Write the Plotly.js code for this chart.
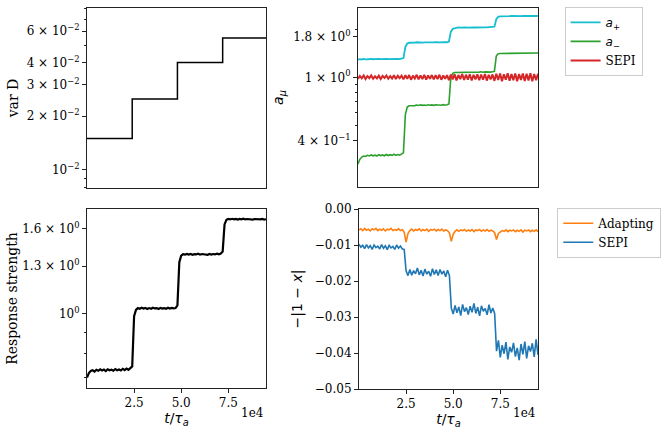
<!DOCTYPE html>
<html>
<head>
<meta charset="utf-8">
<script src="https://cdn.plot.ly/plotly-3.0.1.min.js"></script>
<style>
  html, body { margin: 0; padding: 0; background: #fff; }
  #fig { width: 665px; height: 432px; }
</style>
</head>
<body>
<div id="fig"></div>
<script>
// time grid, in units of 1000 tau_a
var t_k = [0,1,2,3,4,5,6,7,8,9,10,11,12,13,14,15,16,17,18,19,20,21,22,23,
  24,25,26,27,28,29,30,31,32,33,34,35,36,37,38,39,40,41,42,43,44,45,46,47,
  48,49,50,51,52,53,54,55,56,57,58,59,60,61,62,63,64,65,66,67,68,69,70,71,
  72,73,74,75,76,77,78,79,80,81,82,83,84,85,86,87,88,89,90,91,92,93,94,95];

// var D steps
var varD_t = [0, 24, 48, 72, 95];
var varD = [0.015, 0.025, 0.040, 0.055, 0.055];

// a_+ , a_- and SEPI (top right)
var a_plus = [1.290,1.300,1.295,1.305,1.298,1.302,1.296,1.304,1.299,1.303,1.297,1.305,1.300,1.304,1.298,1.306,1.301,1.304,1.299,1.306,1.300,1.305,1.301,1.306,
  1.320,1.550,1.630,1.650,1.648,1.660,1.652,1.661,1.655,1.662,1.654,1.660,1.656,1.663,1.655,1.661,1.657,1.663,1.656,1.662,1.658,1.664,1.657,1.662,
  1.680,1.930,2.020,2.040,2.048,2.058,2.052,2.060,2.054,2.062,2.055,2.061,2.056,2.063,2.057,2.062,2.058,2.064,2.057,2.062,2.059,2.065,2.058,2.064,
  2.080,2.320,2.400,2.415,2.422,2.432,2.426,2.434,2.427,2.433,2.428,2.435,2.429,2.434,2.427,2.433,2.429,2.436,2.430,2.434,2.428,2.435,2.430,2.434];
var a_minus = [0.285,0.305,0.315,0.320,0.318,0.323,0.320,0.325,0.321,0.324,0.320,0.326,0.322,0.325,0.321,0.327,0.322,0.326,0.323,0.328,0.323,0.327,0.324,0.330,
  0.335,0.580,0.650,0.662,0.662,0.669,0.664,0.670,0.665,0.671,0.666,0.670,0.665,0.672,0.667,0.671,0.666,0.672,0.668,0.671,0.667,0.673,0.668,0.672,
  0.680,1.000,1.060,1.072,1.072,1.080,1.074,1.081,1.075,1.082,1.076,1.081,1.077,1.083,1.076,1.082,1.078,1.084,1.077,1.082,1.079,1.085,1.078,1.084,
  1.090,1.360,1.405,1.412,1.412,1.420,1.414,1.421,1.415,1.422,1.416,1.421,1.417,1.423,1.416,1.422,1.418,1.424,1.417,1.423,1.419,1.424,1.418,1.423];
var a_sepi = [0.978,1.021,0.985,1.026,0.975,1.018,0.988,1.028,0.980,1.015,0.984,1.024,0.976,1.020,0.990,1.027,0.979,1.017,0.983,1.029,0.977,1.022,0.987,1.025,
  0.970,1.030,0.978,1.034,0.966,1.024,0.982,1.037,0.972,1.028,0.976,1.035,0.968,1.026,0.980,1.033,0.971,1.031,0.975,1.038,0.965,1.027,0.979,1.032,
  0.960,1.040,0.970,1.046,0.956,1.034,0.973,1.049,0.962,1.038,0.967,1.045,0.955,1.036,0.971,1.043,0.959,1.041,0.965,1.050,0.954,1.037,0.969,1.042,
  0.950,1.052,0.962,1.058,0.946,1.045,0.965,1.060,0.952,1.049,0.958,1.057,0.945,1.047,0.963,1.055,0.949,1.053,0.956,1.061,0.944,1.048,0.960,1.054];

// response strength (bottom left)
var resp = [0.700,0.718,0.726,0.729,0.724,0.731,0.727,0.733,0.728,0.732,0.726,0.733,0.729,0.731,0.727,0.734,0.729,0.732,0.728,0.735,0.730,0.736,0.731,0.738,
  0.745,0.985,1.020,1.030,1.026,1.032,1.027,1.031,1.025,1.030,1.026,1.032,1.028,1.030,1.025,1.031,1.027,1.030,1.026,1.032,1.027,1.031,1.028,1.030,
  1.045,1.330,1.378,1.390,1.386,1.392,1.387,1.391,1.385,1.390,1.388,1.393,1.386,1.391,1.388,1.390,1.385,1.392,1.387,1.391,1.389,1.393,1.388,1.395,
  1.410,1.640,1.682,1.690,1.686,1.692,1.687,1.691,1.685,1.690,1.687,1.693,1.686,1.690,1.688,1.692,1.685,1.690,1.687,1.691,1.686,1.690,1.684,1.688];

// -|1-x| (bottom right)
var err_adapt = [-0.0058,-0.0055,-0.0060,-0.0054,-0.0059,-0.0056,-0.0061,-0.0055,-0.0058,-0.0054,-0.0060,-0.0056,-0.0059,-0.0055,-0.0061,-0.0056,-0.0058,-0.0054,-0.0060,-0.0057,-0.0059,-0.0055,-0.0060,-0.0057,
  -0.0065,-0.0092,-0.0068,-0.0060,-0.0056,-0.0061,-0.0057,-0.0059,-0.0055,-0.0061,-0.0057,-0.0060,-0.0056,-0.0062,-0.0057,-0.0059,-0.0056,-0.0061,-0.0057,-0.0060,-0.0056,-0.0061,-0.0058,-0.0060,
  -0.0066,-0.0090,-0.0070,-0.0062,-0.0058,-0.0062,-0.0058,-0.0060,-0.0057,-0.0062,-0.0058,-0.0061,-0.0057,-0.0063,-0.0058,-0.0060,-0.0057,-0.0062,-0.0058,-0.0061,-0.0057,-0.0062,-0.0059,-0.0061,
  -0.0066,-0.0085,-0.0068,-0.0063,-0.0060,-0.0062,-0.0058,-0.0063,-0.0059,-0.0061,-0.0058,-0.0063,-0.0059,-0.0062,-0.0058,-0.0064,-0.0059,-0.0061,-0.0058,-0.0063,-0.0059,-0.0062,-0.0058,-0.0063];
var err_sepi = [-0.0098,-0.0106,-0.0101,-0.0110,-0.0099,-0.0108,-0.0102,-0.0112,-0.0100,-0.0107,-0.0103,-0.0111,-0.0099,-0.0109,-0.0102,-0.0113,-0.0101,-0.0108,-0.0104,-0.0112,-0.0100,-0.0109,-0.0103,-0.0111,
  -0.0112,-0.0172,-0.0185,-0.0168,-0.0184,-0.0171,-0.0180,-0.0164,-0.0183,-0.0170,-0.0186,-0.0167,-0.0181,-0.0173,-0.0187,-0.0166,-0.0182,-0.0169,-0.0185,-0.0168,-0.0181,-0.0172,-0.0188,-0.0170,
  -0.0185,-0.0275,-0.0292,-0.0268,-0.0288,-0.0272,-0.0296,-0.0265,-0.0285,-0.0274,-0.0293,-0.0270,-0.0287,-0.0262,-0.0290,-0.0273,-0.0297,-0.0269,-0.0284,-0.0276,-0.0294,-0.0266,-0.0289,-0.0275,
  -0.0290,-0.0395,-0.0365,-0.0412,-0.0378,-0.0402,-0.0370,-0.0418,-0.0383,-0.0398,-0.0372,-0.0410,-0.0386,-0.0420,-0.0375,-0.0404,-0.0368,-0.0415,-0.0380,-0.0396,-0.0373,-0.0411,-0.0362,-0.0405];

var x_ticks = [25000, 50000, 75000];
var x_ticktext = ['2.5', '5.0', '7.5'];

var t = t_k.map(function(v){ return v * 1000; });
var tD = varD_t.map(function(v){ return v * 1000; });

var sans = '<span style="font-family:DejaVu Sans">';

var data = [
  {x: tD, y: varD, type: 'scatter', mode: 'lines', line: {color: 'black', width: 1.5, shape: 'hv'},
   xaxis: 'x', yaxis: 'y', showlegend: false},
  {x: t, y: a_plus, type: 'scatter', mode: 'lines', name: sans + '<i>a</i><sub>+</sub></span>',
   line: {color: '#17becf', width: 1.8}, xaxis: 'x2', yaxis: 'y2', legend: 'legend'},
  {x: t, y: a_minus, type: 'scatter', mode: 'lines', name: sans + '<i>a</i><sub>−</sub></span>',
   line: {color: '#2ca02c', width: 1.6}, xaxis: 'x2', yaxis: 'y2', legend: 'legend'},
  {x: t, y: a_sepi, type: 'scatter', mode: 'lines', name: 'SEPI',
   line: {color: '#d62728', width: 2}, xaxis: 'x2', yaxis: 'y2', legend: 'legend'},
  {x: t, y: resp, type: 'scatter', mode: 'lines', line: {color: 'black', width: 2.2},
   xaxis: 'x3', yaxis: 'y3', showlegend: false},
  {x: t, y: err_adapt, type: 'scatter', mode: 'lines', name: 'Adapting',
   line: {color: '#ff7f0e', width: 1.6}, xaxis: 'x4', yaxis: 'y4', legend: 'legend2'},
  {x: t, y: err_sepi, type: 'scatter', mode: 'lines', name: 'SEPI',
   line: {color: '#1f77b4', width: 1.6}, xaxis: 'x4', yaxis: 'y4', legend: 'legend2'}
];

var axBase = {showline: true, mirror: true, linecolor: '#222', linewidth: 1,
  showgrid: false, zeroline: false, ticks: 'outside', ticklen: 4, tickwidth: 1, tickcolor: '#222'};
function ax(o){ return Object.assign({}, axBase, o); }

var xTop = {range: [0, 95000], showticklabels: false, ticks: ''};
var xBot = {range: [0, 95000], tickmode: 'array', tickvals: x_ticks, ticktext: x_ticktext,
  title: {text: sans + '<i>t</i>/<i>τ</i><sub><i>a</i></sub></span>', standoff: 1}};
var minorLog = function(vals){ return {tickmode: 'array', tickvals: vals, ticks: 'outside', ticklen: 2, tickcolor: '#222'}; };

var layout = {
  width: 665, height: 432,
  margin: {l: 0, r: 0, t: 0, b: 0},
  paper_bgcolor: 'white', plot_bgcolor: 'white',
  font: {family: 'DejaVu Serif', size: 12, color: 'black'},
  xaxis: ax(Object.assign({domain: [0.1308, 0.4], anchor: 'y'}, xTop)),
  yaxis: ax({domain: [0.5648, 0.9815], anchor: 'x', type: 'log', range: [-2.101, -1.092],
    tickmode: 'array', tickvals: [0.01, 0.02, 0.03, 0.04, 0.06],
    ticktext: ['10<sup>−2</sup>', '2 × 10<sup>−2</sup>', '3 × 10<sup>−2</sup>', '4 × 10<sup>−2</sup>', '6 × 10<sup>−2</sup>'],
    minor: minorLog([0.008, 0.009, 0.05, 0.07, 0.08]),
    title: {text: 'var D', standoff: 4}}),
  xaxis2: ax(Object.assign({domain: [0.5383, 0.809], anchor: 'y2'}, xTop)),
  yaxis2: ax({domain: [0.5671, 0.9815], anchor: 'x2', type: 'log', range: [-0.690, 0.436],
    tickmode: 'array', tickvals: [0.4, 1, 1.8],
    ticktext: ['4 × 10<sup>−1</sup>', '1 × 10<sup>0</sup>', '1.8 × 10<sup>0</sup>'],
    minor: minorLog([0.5, 0.6, 0.7, 0.8, 0.9, 2]),
    title: {text: sans + '<i>a</i><sub><i>μ</i></sub></span>', standoff: 6}}),
  xaxis3: ax(Object.assign({domain: [0.1308, 0.4], anchor: 'y3'}, xBot)),
  yaxis3: ax({domain: [0.1019, 0.5162], anchor: 'x3', type: 'log', range: [-0.180, 0.252],
    tickmode: 'array', tickvals: [1, 1.3, 1.6],
    ticktext: ['10<sup>0</sup>', '1.3 × 10<sup>0</sup>', '1.6 × 10<sup>0</sup>'],
    minor: minorLog([0.7, 0.8, 0.9]),
    title: {text: 'Response strength', standoff: 1}}),
  xaxis4: ax(Object.assign({domain: [0.5398, 0.809], anchor: 'y4'}, xBot)),
  yaxis4: ax({domain: [0.0995, 0.5162], anchor: 'x4', range: [-0.05, 0],
    tickmode: 'array', tickvals: [-0.05, -0.04, -0.03, -0.02, -0.01, 0],
    ticktext: ['−0.05', '−0.04', '−0.03', '−0.02', '−0.01', '0.00'],
    title: {text: sans + '−|1 − <i>x</i>|</span>', standoff: 8}}),
  legend: {x: 0.849, xanchor: 'left', y: 0.984, yanchor: 'top', bgcolor: 'white',
    bordercolor: '#ccc', borderwidth: 1, font: {size: 12}, tracegroupgap: 0, itemwidth: 30},
  legend2: {x: 0.838, xanchor: 'left', y: 0.519, yanchor: 'top', bgcolor: 'white',
    bordercolor: '#ccc', borderwidth: 1, font: {size: 12}, tracegroupgap: 0, itemwidth: 30},
  annotations: [
    {xref: 'paper', yref: 'paper', x: 0.4, y: 0.044, xanchor: 'right', yanchor: 'middle',
     text: '1e4', showarrow: false, font: {size: 12}},
    {xref: 'paper', yref: 'paper', x: 0.809, y: 0.044, xanchor: 'right', yanchor: 'middle',
     text: '1e4', showarrow: false, font: {size: 12}}
  ]
};

Plotly.newPlot('fig', data, layout, {staticPlot: true});
</script>
</body>
</html>
